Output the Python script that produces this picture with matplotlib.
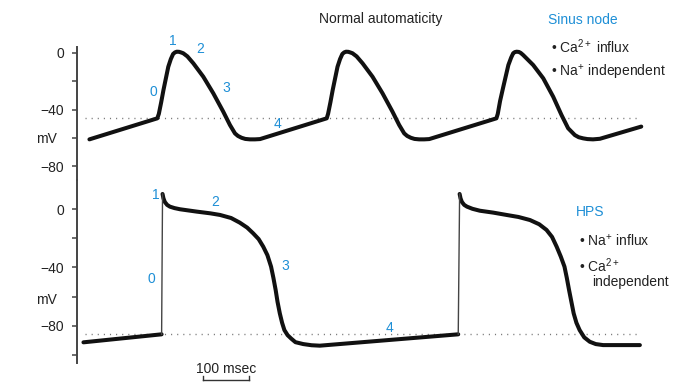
import matplotlib
matplotlib.use("Agg")
import matplotlib.pyplot as plt

plt.rcParams['font.family'] = ['Liberation Sans', 'DejaVu Sans']
plt.rcParams['mathtext.fontset'] = 'custom'
plt.rcParams['mathtext.rm'] = 'Liberation Sans'
plt.rcParams['mathtext.it'] = 'Liberation Sans'

W, H = 673, 383
BLUE = '#1e8fd6'
INK = '#222222'

# --- sinus node trace (ms, mV) ---
sinus_t = [27, 174.6, 178, 183, 188, 198.5, 204, 209, 213, 217, 222, 226, 231, 240, 253, 274.6,
           296.4, 318, 332.6, 343.5, 350, 358, 366, 376, 387, 398,
           543, 546, 551, 556, 566.5, 572, 577, 581, 585, 590, 594, 599, 608, 621, 642.6,
           664.4, 686, 700.6, 711.5, 718, 726, 734, 744, 755, 766,
           912, 915, 920, 927, 938, 944, 948.5, 952, 956, 961, 965, 970, 979, 992, 1013.8,
           1035.5, 1053.6, 1068, 1082.6, 1091, 1100.7, 1110, 1122, 1137, 1227]
sinus_v = [-61, -46.2, -43, -35, -26.3, -9.9, -4.5, -0.9, 0.2, 0.7, 0.6, 0.2, -0.4, -2.6, -7.5, -16.9,
           -28.6, -41.5, -50.9, -56.8, -58.6, -59.9, -60.7, -61, -61, -60.8,
           -46.2, -43, -35, -26.3, -9.9, -4.5, -0.9, 0.2, 0.7, 0.6, 0.2, -0.4, -2.6, -7.5, -16.9,
           -28.6, -41.5, -50.9, -56.8, -58.6, -59.9, -60.7, -61, -61, -60.8,
           -46.2, -43, -34, -24, -8.7, -3.5, -0.4, 0.4, 0.7, 0.5, -0.2, -1.6, -4.5, -8.7, -18,
           -31, -43.9, -53.2, -58, -59.5, -60.3, -60.8, -61, -60.6, -52]
sinus_threshold = -46.2

# --- HPS trace: phase 4 (thick), upstrokes (thin), plateau + repolarisation (thick) ---
hps_rest1_t = [14, 184]
hps_rest1_v = [-91.4, -85.9]
hps_up1_t = [184, 186]
hps_up1_v = [-85.9, 10.5]
hps_ap1_t = [186, 188, 191, 196, 202, 212, 224, 260, 290, 311, 335, 354, 370, 383, 395, 405, 414,
             422, 427, 432, 436, 441, 446, 451, 458, 466, 475, 492, 510, 528, 829]
hps_ap1_v = [10.5, 7.5, 5, 3, 1.8, 0.8, 0, -1.6, -2.8, -3.9, -6, -9.2, -12.6, -16.5, -20.5, -25.7,
             -31.5, -39.4, -47, -55.5, -63.5, -71.5, -78, -83, -86.5, -88.9, -91.3, -92.6, -93.4,
             -93.7, -85.9]
hps_up2_t = [829, 832]
hps_up2_v = [-85.9, 10.5]
hps_ap2_t = [832, 834, 837, 842, 848, 860, 876, 905, 934, 960, 985, 1005, 1021, 1033, 1043, 1052,
             1060, 1065, 1070, 1075, 1080, 1086, 1093, 1103, 1115, 1128, 1144, 1224]
hps_ap2_v = [10.5, 7.5, 5, 3, 1.8, 0.3, -1, -2.3, -3.9, -5.3, -7.4, -10.3, -14.2, -19, -25.7, -32.5,
             -39.4, -47, -55.5, -63.5, -71.5, -78, -83, -88, -91, -92.6, -93.3, -93.3]
hps_threshold = -85.9

# phase labels (t, mV, text)
sinus_phase_t = [167, 209, 267, 324, 437]
sinus_phase_v = [-27.7, 8.2, 2.6, -24.9, -50.2]
sinus_phase_lbl = ['0', '1', '2', '3', '4']
hps_phase_t = [162, 172, 300, 452, 680]
hps_phase_v = [-47.9, 9.8, 5.2, -39, -81.8]
hps_phase_lbl = ['0', '1', '2', '3', '4']

top_ticks = [0, -20, -40, -60, -80]
bot_ticks = [0, -20, -40, -60, -80, -100]
labelled = {0: '0', -40: '\u221240', -80: '\u221280'}

fig = plt.figure(figsize=(W / 100, H / 100), dpi=100)
left = 77 / W
ax1 = fig.add_axes([left, 1 - 180 / H, 1 - left, 133 / H])
ax2 = fig.add_axes([left, 1 - 363 / H, 1 - left, 183 / H])

for ax, ticks, ylim in [(ax1, top_ticks, (-89.6, 4.0)), (ax2, bot_ticks, (-105.6, 20.1))]:
    ax.set_xlim(0, 1296)
    ax.set_ylim(*ylim)
    for s in ['top', 'right', 'bottom']:
        ax.spines[s].set_visible(False)
    ax.spines['left'].set_linewidth(1.4)
    ax.spines['left'].set_color('#444444')
    ax.set_xticks([])
    ax.set_yticks(ticks)
    ax.set_yticklabels([labelled.get(t, '') for t in ticks])
    ax.tick_params(axis='y', direction='out', length=3.5, width=1.1, color='#444444',
                   labelsize=10, labelcolor=INK, pad=6)
    ax.patch.set_alpha(0)

ax1.text(-44, -61, 'mV', fontsize=10, color=INK, ha='right', va='center')
ax2.text(-44, -62, 'mV', fontsize=10, color=INK, ha='right', va='center')

# top panel
ax1.plot([17, 1224], [sinus_threshold] * 2, color='#777777', lw=1,
         linestyle=(0, (0.8, 3.6)))
ax1.plot(sinus_t, sinus_v, color='#111111', lw=2.9, solid_joinstyle='round',
         solid_capstyle='round')
for t, v, s in zip(sinus_phase_t, sinus_phase_v, sinus_phase_lbl):
    ax1.text(t, v, s, color=BLUE, fontsize=10, ha='center', va='center')

# bottom panel
ax2.plot([17, 1224], [hps_threshold] * 2, color='#777777', lw=1,
         linestyle=(0, (0.8, 3.6)))
for tt, vv in [(hps_rest1_t, hps_rest1_v), (hps_ap1_t, hps_ap1_v), (hps_ap2_t, hps_ap2_v)]:
    ax2.plot(tt, vv, color='#111111', lw=2.9, solid_joinstyle='round', solid_capstyle='round')
for tt, vv in [(hps_up1_t, hps_up1_v), (hps_up2_t, hps_up2_v)]:
    ax2.plot(tt, vv, color='#444444', lw=1.0)
for t, v, s in zip(hps_phase_t, hps_phase_v, hps_phase_lbl):
    ax2.text(t, v, s, color=BLUE, fontsize=10, ha='center', va='center')

# 100 msec scale bar
bar_t = [274, 374]
ax2.plot(bar_t, [-117.3, -117.3], color='#333333', lw=1.0, clip_on=False)
for t in bar_t:
    ax2.plot([t, t], [-117.3, -114.8], color='#333333', lw=1.0, clip_on=False)
ax2.text(324, -109.5, '100 msec', fontsize=10, color=INK, ha='center', va='center')


def ftext(x, y, s, **kw):
    fig.text(x / W, 1 - y / H, s, fontsize=10, va='center', **kw)


ftext(381, 19, 'Normal automaticity', color=INK, ha='center')
ftext(548, 20, 'Sinus node', color=BLUE, ha='left')
ftext(551, 47, '\u2022 Ca$^{2+}$ influx', color=INK, ha='left')
ftext(551, 72, '\u2022 Na$^{+}$ independent', color=INK, ha='left')
ftext(576, 212, 'HPS', color=BLUE, ha='left')
ftext(579, 241, '\u2022 Na$^{+}$ influx', color=INK, ha='left')
ftext(579, 266, '\u2022 Ca$^{2+}$', color=INK, ha='left')
ftext(592, 282, 'independent', color=INK, ha='left')

fig.savefig('out.png', dpi=100)
